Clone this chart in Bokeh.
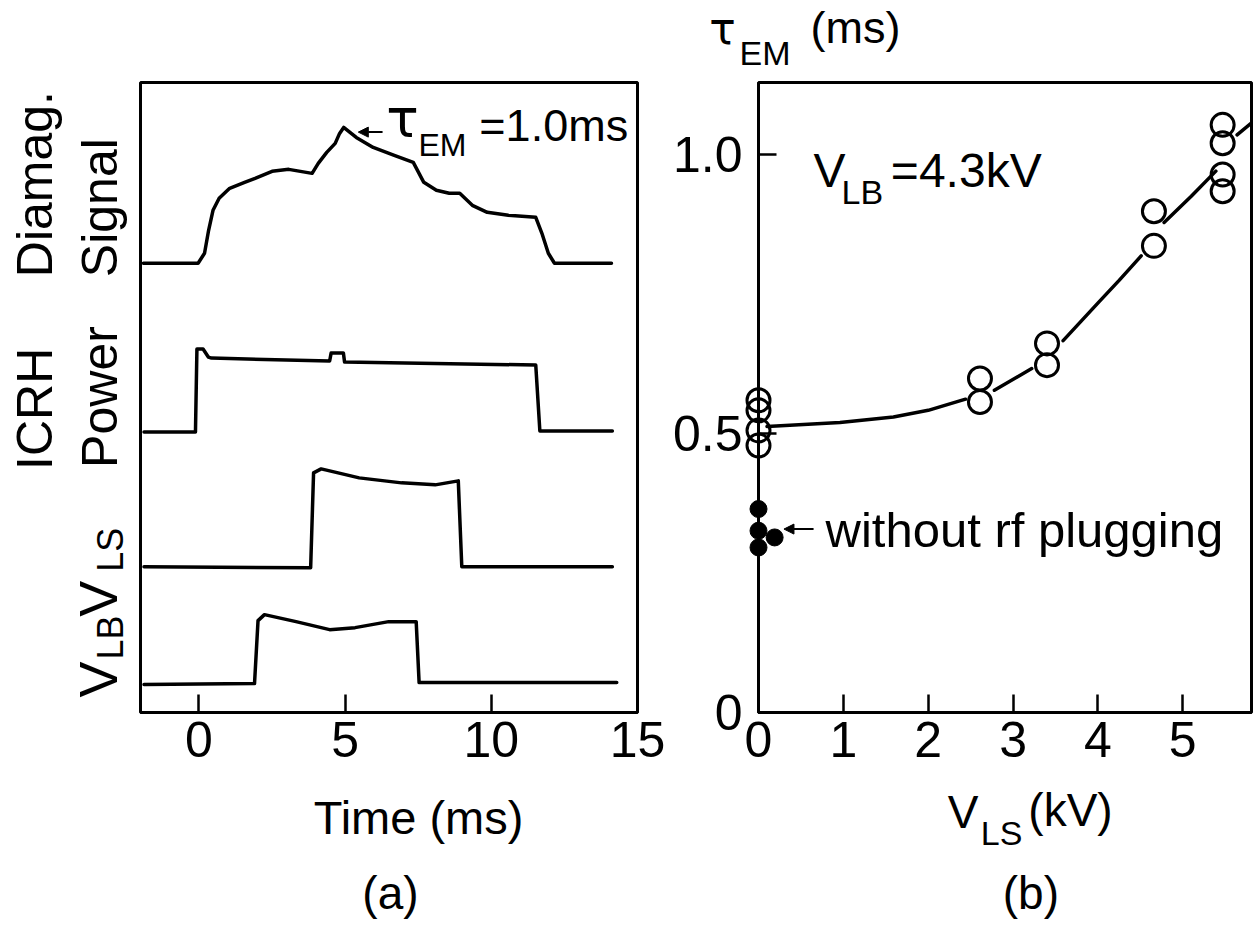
import math
from bokeh.plotting import figure
from bokeh.layouts import row
from bokeh.models import Arrow, NormalHead, Range1d, FixedTicker
from bokeh.core.properties import value
from bokeh.embed import file_html
from bokeh.resources import INLINE

nan = float("nan")

# ---------------- (a) waveforms: time (ms) vs signal level (arb. units) ----------------
diamag_t = [-1.90, -0.03, 0.19, 0.33, 0.48, 0.69, 1.05, 1.56, 1.92, 2.50, 3.07, 3.87, 4.08, 4.37,
            4.66, 4.81, 4.95, 5.38, 5.96, 6.68, 7.33, 7.69, 8.12, 8.56, 8.92, 9.35, 9.86, 10.58,
            11.52, 11.73, 11.95, 12.16, 14.11]
diamag_v = [4.50, 4.50, 4.60, 4.83, 5.03, 5.15, 5.25, 5.31, 5.35, 5.42, 5.44, 5.40, 5.50, 5.61,
            5.70, 5.80, 5.86, 5.76, 5.66, 5.58, 5.51, 5.31, 5.23, 5.20, 5.20, 5.08, 5.01, 4.98,
            4.96, 4.80, 4.60, 4.50, 4.50]

icrh_t = [-1.88, -0.12, -0.07, 0.14, 0.32, 0.43, 4.47, 4.52, 4.94, 4.98, 11.52, 11.66, 14.14]
icrh_v = [2.81, 2.81, 3.64, 3.64, 3.56, 3.55, 3.52, 3.60, 3.60, 3.51, 3.48, 2.82, 2.82]

vls_t = [-1.88, 3.82, 3.92, 4.18, 4.76, 5.48, 6.93, 8.08, 8.87, 8.99, 14.14]
vls_v = [1.46, 1.45, 2.40, 2.44, 2.40, 2.35, 2.30, 2.28, 2.32, 1.46, 1.46]

vlb_t = [-1.88, 1.90, 2.02, 2.24, 3.32, 4.47, 5.34, 6.49, 7.43, 7.53, 14.29]
vlb_v = [0.28, 0.29, 0.92, 0.98, 0.91, 0.83, 0.85, 0.91, 0.91, 0.30, 0.30]

time_ticks = [0, 5, 10, 15]

# ---------------- (b) tau_EM vs V_LS ----------------
open_vls = [0.0, 0.0, 0.0, 0.0, 2.61, 2.61, 3.40, 3.40, 4.66, 4.66, 5.47, 5.47, 5.47, 5.47]
open_tau = [0.560, 0.542, 0.506, 0.479, 0.599, 0.557, 0.662, 0.623, 0.899, 0.837,
            1.054, 1.021, 0.965, 0.935]

norf_vls = [0.0, 0.0, 0.0, 0.19]
norf_tau = [0.365, 0.326, 0.296, 0.314]

fit_vls = [0.10, 0.96, 1.59, 2.00, 2.44, nan, 2.78, 3.22, nan, 3.59, 4.01, 4.25, 4.51, nan,
           4.78, 5.10, 5.39, nan, 5.64, 5.83]
fit_tau = [0.513, 0.520, 0.530, 0.542, 0.562, nan, 0.578, 0.617, nan, 0.667, 0.736, 0.775, 0.819, nan,
           0.879, 0.926, 0.971, nan, 1.036, 1.060]

vls_ticks = [0, 1, 2, 3, 4, 5]
tau_ticks = [0, 0.5, 1.0]
tau_tick_labels = {0: "0", 0.5: "0.5", 1: "1.0"}

FONT = "Liberation Sans"
GREEK = "DejaVu Sans"
INK = "black"

# canvas geometry (pixels)
W1, W2, H = 665, 588, 926


def base_style(p):
    p.grid.visible = False
    p.background_fill_color = "white"
    p.border_fill_color = "white"
    p.outline_line_color = INK
    p.outline_line_width = 3
    p.outline_line_alpha = 1.0


def style_axis(ax):
    ax.axis_line_width = 3
    ax.axis_line_color = INK
    ax.major_tick_in = 18
    ax.major_tick_out = 0
    ax.major_tick_line_width = 2.5
    ax.major_tick_line_color = INK
    ax.minor_tick_line_color = None
    ax.major_label_text_font = FONT
    ax.major_label_text_font_size = "50px"
    ax.major_label_text_color = INK
    ax.major_label_standoff = 9


def txt(p, x, y, s, size, font=FONT, align="left", rotated=False):
    px = float(size.replace("px", ""))
    shift = 0.4 * px  # compensate the renderer's alphabetic-baseline offset
    p.text(x=[x], y=[y], text=[s], text_font=value(font), text_font_size=value(size),
           text_align=align, text_baseline="alphabetic", text_color=INK,
           angle=(math.pi / 2 if rotated else 0.0), angle_units="rad",
           x_offset=(-shift if rotated else 0.0), y_offset=(0.0 if rotated else -shift),
           level="overlay")


# ---------------- panel (a) ----------------
p1 = figure(width=W1, height=H, x_range=Range1d(-2, 15), y_range=Range1d(0, 6.31),
            output_backend="svg", toolbar_location=None, y_axis_location=None,
            min_border_left=140, min_border_right=W1 - 637, min_border_top=82, min_border_bottom=213)
base_style(p1)
p1.xaxis.ticker = FixedTicker(ticks=time_ticks)
style_axis(p1.xaxis[0])

for tt, vv in [(diamag_t, diamag_v), (icrh_t, icrh_v), (vls_t, vls_v), (vlb_t, vlb_v)]:
    p1.line(tt, vv, line_color=INK, line_width=3.5, line_join="round", line_cap="round")

txt(p1, -4.94, 4.36, "Diamag.", "50px", rotated=True)
txt(p1, -2.70, 4.36, "Signal", "50px", rotated=True)
txt(p1, -4.94, 2.43, "ICRH", "50px", rotated=True)
txt(p1, -2.70, 2.45, "Power", "50px", rotated=True)
txt(p1, -2.70, 0.96, "V", "54px", rotated=True)
txt(p1, -2.55, 1.41, "LS", "36px", rotated=True)
txt(p1, -2.70, 0.15, "V", "54px", rotated=True)
txt(p1, -2.55, 0.53, "LB", "36px", rotated=True)

txt(p1, 6.41, 5.73, "\u03c4", "54px", font=GREEK)
txt(p1, 7.51, 5.56, "EM", "32px")
txt(p1, 9.59, 5.70, "=1.0ms", "45px")
p1.add_layout(Arrow(end=NormalHead(size=10, fill_color=INK, line_color=INK),
                    x_start=6.28, y_start=5.813, x_end=5.45, y_end=5.813,
                    line_width=2, line_color=INK))

txt(p1, 7.51, -1.24, "Time (ms)", "47px", align="center")
txt(p1, 6.55, -1.99, "(a)", "46px", align="center")

# ---------------- panel (b) ----------------
p2 = figure(width=W2, height=H, x_range=Range1d(0, 5.81), y_range=Range1d(0, 1.13),
            output_backend="svg", toolbar_location=None,
            min_border_left=758 - W1, min_border_right=2, min_border_top=79, min_border_bottom=214)
base_style(p2)
p2.xaxis.ticker = FixedTicker(ticks=vls_ticks)
p2.yaxis.ticker = FixedTicker(ticks=tau_ticks)
p2.yaxis.major_label_overrides = tau_tick_labels
style_axis(p2.xaxis[0])
style_axis(p2.yaxis[0])
p2.yaxis.axis_line_width = 2.5
p2.yaxis.major_label_standoff = 16

p2.line(fit_vls, fit_tau, line_color=INK, line_width=3.5, line_cap="round")
p2.scatter(open_vls, open_tau, marker="circle", size=23, fill_color=None,
           line_color=INK, line_width=3, level="overlay")
p2.scatter(norf_vls, norf_tau, marker="circle", size=17, fill_color=INK,
           line_color=INK, line_width=1, level="overlay")

p2.add_layout(Arrow(end=NormalHead(size=10, fill_color=INK, line_color=INK),
                    x_start=0.649, y_start=0.329, x_end=0.30, y_end=0.329,
                    line_width=2, line_color=INK))
txt(p2, 0.79, 0.293, "without rf plugging", "49px")

txt(p2, 0.649, 0.9375, "V", "48px")
txt(p2, 0.979, 0.909, "LB", "34px")
txt(p2, 1.56, 0.9375, "=4.3kV", "48px")

txt(p2, -0.58, 1.1946, "\u03c4", "44px", font=GREEK)
txt(p2, -0.224, 1.159, "EM", "34px")
txt(p2, 0.613, 1.196, "(ms)", "45px")

txt(p2, 2.23, -0.211, "V", "46px")
txt(p2, 2.62, -0.241, "LS", "34px")
txt(p2, 3.18, -0.207, "(kV)", "46px")
txt(p2, 3.21, -0.357, "(b)", "46px", align="center")

layout = row(p1, p2)
open("out.html", "w").write(file_html(layout, INLINE))
